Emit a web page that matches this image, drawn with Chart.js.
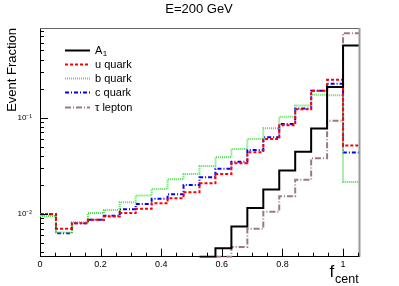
<!DOCTYPE html>
<html><head><meta charset="utf-8">
<script src="https://cdn.jsdelivr.net/npm/chart.js@4/dist/chart.umd.min.js"></script>
<style>html,body{margin:0;padding:0;background:#fff;overflow:hidden}#wrap{width:399px;height:286px}</style>
</head><body><div id="wrap"><canvas id="c" width="399" height="286"></canvas></div>
<script>
const FONT = '"Liberation Sans", Arial, Helvetica, sans-serif';
const chartTitle = 'E=200 GeV';
const yAxisTitle = 'Event Fraction';
const xTitleMain = 'f';
const xTitleSub = 'cent';
// histogram bin edges (20 bins of width 1/19)
const binEdges = Array.from({length: 21}, (_, k) => k / 19);
const xTickLabels = ['0', '0.2', '0.4', '0.6', '0.8', '1'];
const yTickLabels = {'-1': '10\u207B\u00B9', '-2': '10\u207B\u00B2'};
const seriesLabels = ['A_1', 'u quark', 'b quark', 'c quark', '\u03C4 lepton'];
const valuesA1 = [null, null, null, null, null, null, null, null, null, null,
  0.0036, 0.0044, 0.0074, 0.0115, 0.0179, 0.0283, 0.0443, 0.0771, 0.208, 0.56];
const valuesU = [0.0100, 0.0070, 0.0080, 0.0087, 0.0094, 0.0102, 0.0113, 0.0129, 0.01455, 0.0168,
  0.0208, 0.0260, 0.0336, 0.0437, 0.0601, 0.083, 0.122, 0.1894, 0.2463, 0.0512];
const valuesB = [0.0095, 0.0064, 0.0082, 0.0102, 0.0110, 0.0132, 0.0155, 0.0182, 0.0229, 0.0260,
  0.0315, 0.0388, 0.0473, 0.0601, 0.0776, 0.1017, 0.1332, 0.172, 0.170, 0.0215];
const valuesC = [0.0099, 0.0063, 0.0080, 0.0087, 0.0096, 0.0112, 0.0127, 0.0144, 0.0160, 0.0200,
  0.0240, 0.0295, 0.0349, 0.0462, 0.0623, 0.0860, 0.124, 0.1894, 0.224, 0.0433];
const valuesTau = [null, null, null, null, null, null, null, null, null, null, null,
  0.0036, 0.00455, 0.0070, 0.01056, 0.0153, 0.0227, 0.0379, 0.0926, 0.752];

function histPoints(vals) {
  const pts = vals.map((v, i) => ({x: binEdges[i], y: v}));
  pts.push({x: binEdges[vals.length], y: vals[vals.length - 1]});
  return pts;
}
const styles = [
  {color: '#000000', dash: [], width: 2},
  {color: '#ff0000', dash: [3, 2], width: 2},
  {color: '#55dd55', dash: [1, 1], width: 2},
  {color: '#0000ff', dash: [4, 2, 1, 2], width: 2},
  {color: '#9c7880', dash: [6, 2, 1, 2], width: 2}
];
const allValues = [valuesA1, valuesU, valuesB, valuesC, valuesTau];
const datasets = allValues.map((vals, i) => ({
  label: seriesLabels[i],
  data: histPoints(vals),
  stepped: 'before',
  borderColor: styles[i].color,
  borderDash: styles[i].dash,
  borderWidth: styles[i].width,
  pointRadius: 0,
  fill: false,
  spanGaps: false,
  clip: {left: 0, right: 0, top: 0, bottom: 1}
}));

function drawLabel(ctx, text, x, y, size) {
  const parts = text.split('_');
  ctx.font = size + 'px ' + FONT;
  ctx.fillText(parts[0], x, y);
  if (parts.length > 1) {
    const w = ctx.measureText(parts[0]).width;
    ctx.font = Math.round(size * 0.72) + 'px ' + FONT;
    ctx.fillText(parts[1], x + w + 0.5, y + 3);
  }
}

const decor = {
  id: 'decor',
  afterDatasetsDraw(chart) {
    const ctx = chart.ctx, a = chart.chartArea;
    const xs = chart.scales.x, ys = chart.scales.y;
    ctx.save();
    // frame top/right
    ctx.strokeStyle = '#666'; ctx.lineWidth = 1;
    ctx.beginPath(); ctx.moveTo(a.left, a.top + 0.5); ctx.lineTo(a.right, a.top + 0.5); ctx.stroke();
    ctx.strokeStyle = '#999'; ctx.lineWidth = 2;
    ctx.beginPath(); ctx.moveTo(a.right + 0.5, a.top); ctx.lineTo(a.right + 0.5, a.bottom); ctx.stroke();
    // inward ticks
    ctx.strokeStyle = '#000'; ctx.lineWidth = 1;
    ctx.beginPath();
    for (let k = 0; k <= 21; k++) {
      const v = k * 0.05;
      if (v > xs.max + 1e-9) break;
      const px = Math.round(xs.getPixelForValue(v)) + 0.5;
      const len = (k % 4 === 0) ? 8 : 4;
      ctx.moveTo(px, a.bottom); ctx.lineTo(px, a.bottom - len);
    }
    for (let e = -3; e <= 0; e++) {
      for (let m = 1; m <= 9; m++) {
        const v = m * Math.pow(10, e);
        if (v < ys.min || v > ys.max) continue;
        const py = Math.round(ys.getPixelForValue(v)) + 0.5;
        const len = m === 1 ? 8 : 4;
        ctx.moveTo(a.left, py); ctx.lineTo(a.left + len, py);
      }
    }
    ctx.stroke();
    // title
    ctx.fillStyle = '#000';
    ctx.font = '13px ' + FONT; ctx.textAlign = 'center'; ctx.textBaseline = 'middle';
    ctx.fillText(chartTitle, 199, 9);
    // x axis title
    ctx.textAlign = 'left'; ctx.textBaseline = 'alphabetic';
    ctx.font = '17px ' + FONT; ctx.fillText(xTitleMain, 329.5, 277);
    ctx.font = '12.5px ' + FONT; ctx.fillText(xTitleSub, 335, 282.5);
    // legend
    chart.data.datasets.forEach((ds, i) => {
      const y = Math.round(49.5 + i * 14.3) + 0.5;
      ctx.strokeStyle = ds.borderColor; ctx.lineWidth = ds.borderWidth;
      ctx.setLineDash(ds.borderDash);
      ctx.beginPath(); ctx.moveTo(65, y); ctx.lineTo(90, y); ctx.stroke();
      ctx.setLineDash([]);
      ctx.fillStyle = '#000'; ctx.textBaseline = 'middle';
      drawLabel(ctx, ds.label, 95, y, 11);
    });
    ctx.restore();
  }
};

new Chart(document.getElementById('c'), {
  type: 'line',
  data: {datasets},
  options: {
    responsive: false,
    animation: false,
    devicePixelRatio: 1,
    layout: {padding: {top: 28, right: 40, left: 0, bottom: 0}},
    plugins: {legend: {display: false}, title: {display: false}, tooltip: {enabled: false}},
    scales: {
      x: {
        type: 'linear', min: 0, max: binEdges[20],
        grid: {display: false, drawTicks: false},
        border: {display: true, color: '#000', width: 1},
        ticks: {
          stepSize: 0.2, includeBounds: false, autoSkip: false, maxRotation: 0, padding: 2,
          color: '#000', font: {family: FONT, size: 9},
          callback: (v) => { const i = Math.round(v / 0.2); return Math.abs(v - i * 0.2) < 1e-6 ? xTickLabels[i] : ''; }
        },
        afterFit: (s) => { s.height = 29.3; }
      },
      y: {
        type: 'logarithmic', min: 0.0036, max: 0.85,
        grid: {display: false, drawTicks: false},
        border: {display: true, color: '#000', width: 1},
        ticks: {
          autoSkip: false, padding: 8, color: '#000', font: {family: FONT, size: 8},
          callback: (v) => { const l = Math.log10(v); const r = Math.round(l); return Math.abs(l - r) < 1e-6 && yTickLabels[String(r)] ? yTickLabels[String(r)] : ''; }
        },
        title: {display: true, text: yAxisTitle, align: 'end', color: '#000', font: {family: FONT, size: 13}, padding: {top: 5, bottom: 0}},
        afterFit: (s) => { s.width = 40; }
      }
    }
  },
  plugins: [decor]
});
</script></body></html>
